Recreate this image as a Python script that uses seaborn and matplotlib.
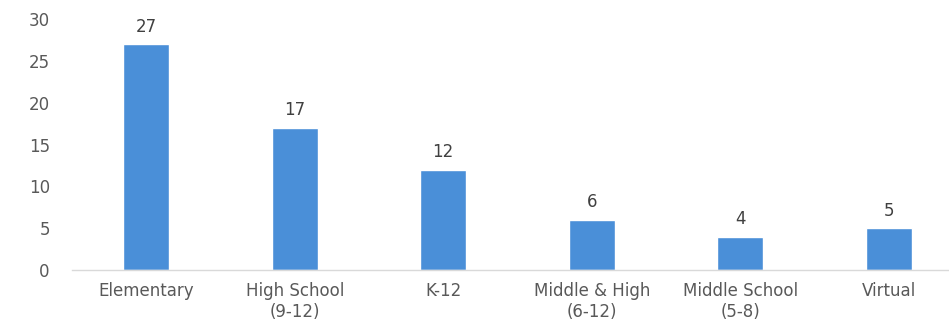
import matplotlib
matplotlib.use("Agg")
import matplotlib.pyplot as plt
import seaborn as sns
import pandas as pd

categories = ["Elementary", "High School\n(9-12)", "K-12", "Middle & High\n(6-12)", "Middle School\n(5-8)", "Virtual"]
counts = [27, 17, 12, 6, 4, 5]
y_ticks = [0, 5, 10, 15, 20, 25, 30]

sns.set_theme(style="white")
plt.rcParams["font.family"] = ["DejaVu Sans"]

df = pd.DataFrame({"category": categories, "count": counts})

W, H = 949, 326
fig = plt.figure(figsize=(W / 100, H / 100), dpi=100)
left_px, base_px, top_px = 72, 270, 19
ax = fig.add_axes([left_px / W, (H - base_px) / H, 1 - left_px / W, (base_px - top_px) / H])

sns.barplot(data=df, x="category", y="count", color="#4A8FD8", width=0.31,
            saturation=1, ax=ax)

step_px = 148.7
ax.set_xlim(-0.5, 5.5 - (963 - W) / step_px)
ax.set_ylim(0, 30)
ax.set_yticks(y_ticks)
ax.set_xlabel("")
ax.set_ylabel("")

for s in ["top", "right", "left"]:
    ax.spines[s].set_visible(False)
ax.spines["bottom"].set_color("#D9D9D9")
ax.spines["bottom"].set_linewidth(1.0)

ax.tick_params(axis="both", length=0, labelsize=12, colors="#595959")
ax.tick_params(axis="y", pad=16)
ax.tick_params(axis="x", pad=9)
for lbl in ax.get_yticklabels():
    lbl.set_horizontalalignment("right")
for lbl in ax.get_xticklabels():
    lbl.set_linespacing(1.15)

for cont in ax.containers:
    ax.bar_label(cont, labels=[str(v) for v in counts], padding=6,
                 fontsize=12, color="#404040")

fig.savefig("out.png", dpi=100)
